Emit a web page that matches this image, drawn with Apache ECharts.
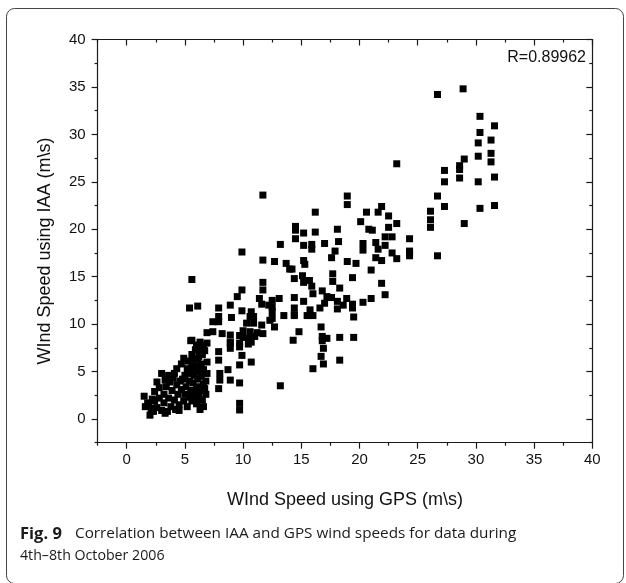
<!DOCTYPE html>
<html>
<head>
<meta charset="utf-8">
<script src="https://cdn.jsdelivr.net/npm/echarts@6/dist/echarts.min.js"></script>
<style>
html,body{margin:0;padding:0;background:#fff;}
#chart{width:626px;height:583px;}
</style>
</head>
<body>
<div id="chart"></div>
<script>
// Wind speed using GPS (m\s) -- x values
var gpsSpeed = [
26.7,28.9,30.35,31.6,30.35,31.3,30.2,30.2,31.3,31.3,29.0,28.6,28.6,27.3,27.3,28.6,30.2,31.6,26.7,27.3,30.35,31.6,26.1,26.1,26.1,29.0,24.3,24.3,26.7,23.2,
18.95,18.95,16.2,21.9,20.6,21.6,22.5,20.1,23.2,14.5,14.5,15.2,16.2,18.1,20.8,21.1,22.5,14.5,22.2,22.8,18.2,17.0,15.2,15.9,15.9,20.3,20.3,21.4,22.2,21.6,17.9,24.3,24.3,22.8,17.6,21.4,21.9,23.2,18.95,19.7,15.2,15.3,14.2,21.0,17.7,17.7,14.4,15.1,15.2,15.7,15.9,19.4,21.9,18.3,16.0,16.8,22.2,14.4,15.2,17.2,17.6,18.1,18.9,21.0,20.3,17.0,19.4,18.6,14.4,14.4,16.6,18.1,19.4,15.75,15.5,16.0,19.5,16.7,14.8,14.3,16.8,17.2,16.8,18.3,19.5,16.9,16.7,16.9,18.3,16.0,
11.7,9.9,13.2,11.7,12.7,13.7,14.0,11.7,11.7,9.9,9.5,5.6,11.4,12.5,13.1,11.6,12.2,12.5,8.9,7.9,6.1,5.4,9.9,10.7,12.5,10.6,10.9,7.9,9.0,13.5,14.4,12.5,7.4,7.9,10.3,10.9,11.6,12.3,12.7,10.0,10.6,11.2,7.4,6.9,8.2,8.9,9.7,10.0,10.5,11.0,11.7,8.9,9.7,10.45,6.3,6.6,5.6,
7.9,7.9,8.0,8.0,7.9,8.7,8.9,9.7,9.7,10.7,9.9,9.7,10.7,8.9,8.9,9.7,9.7,13.2,
1.5,1.6,1.8,2.0,2.1,2.3,2.4,2.6,2.4,2.6,3.0,2.8,3.0,3.2,3.2,3.4,3.5,3.6,3.7,3.8,3.9,4.0,4.1,4.2,4.3,4.3,4.4,4.5,4.6,4.7,4.7,4.9,5.0,5.0,5.1,5.2,5.2,5.3,5.4,5.4,5.5,5.5,5.6,5.6,5.7,5.8,5.8,5.9,5.9,6.0,6.0,6.1,6.1,6.2,6.2,6.3,6.3,6.4,6.4,6.5,6.5,6.6,6.6,6.7,6.8,6.8,6.9,6.9,
4.8,5.3,5.6,5.7,6.0,6.2,6.4,6.0,3.6,4.1,4.9,2.8,3.3,2.2,1.9,6.6,6.3,5.9,6.7,6.9,4.5,3.3,5.5
];
// Wind speed using IAA (m\s) -- y values
var iaaSpeed = [
34.2,34.8,31.9,30.9,30.2,29.4,29.1,27.7,28.0,27.1,27.4,26.7,26.3,26.2,25.0,25.4,25.0,25.5,23.5,22.4,22.2,22.5,21.9,21.0,20.2,20.6,19.0,17.7,17.2,26.9,
23.5,22.6,21.8,22.4,21.8,21.8,21.4,20.8,20.6,20.3,19.9,19.6,19.7,20.0,20.0,19.9,20.2,19.0,19.2,19.2,18.7,18.5,18.3,18.4,17.9,18.5,17.8,18.6,18.3,17.9,17.7,17.2,17.5,17.5,17.0,17.0,16.7,16.9,16.6,16.4,16.7,16.3,15.8,15.7,15.3,14.5,14.8,15.1,14.4,14.6,14.0,14.9,14.3,13.8,13.2,13.5,13.1,12.8,12.4,12.9,12.8,12.4,12.7,12.7,12.3,12.2,12.1,12.0,11.7,11.0,11.7,11.6,11.7,11.5,10.9,10.9,10.75,9.7,9.2,8.3,8.7,8.5,8.25,8.6,8.6,7.45,6.6,5.8,6.2,5.3,
23.6,17.6,18.4,16.75,16.6,16.4,15.8,14.4,13.6,13.6,12.9,14.7,12.7,12.5,12.7,12.1,12.0,11.8,12.0,11.7,11.9,11.7,11.4,11.3,11.3,10.8,10.8,10.8,10.7,10.9,10.9,10.6,10.25,10.25,10.1,10.1,9.9,10.4,9.7,9.3,9.2,9.1,9.2,9.1,9.0,8.85,8.8,8.6,8.5,8.7,9.0,8.0,8.0,7.9,8.1,7.8,8.3,
7.1,6.2,4.8,4.1,3.2,5.2,4.1,3.8,5.7,6.0,6.7,7.6,8.1,7.45,8.1,1.65,0.95,3.5,
2.4,1.3,1.7,0.4,1.1,0.8,1.9,1.2,2.9,3.9,4.8,2.2,0.9,2.6,1.7,3.4,0.8,2.2,3.9,1.3,3.0,4.3,2.0,1.0,3.6,5.3,2.6,1.5,4.0,3.1,5.8,1.9,2.6,4.6,3.4,5.3,1.3,6.1,2.3,4.0,3.0,5.0,6.8,1.9,3.8,4.6,2.7,5.6,7.3,1.6,3.4,4.2,6.3,2.3,5.0,7.7,3.0,5.8,4.5,2.0,6.8,3.7,5.2,7.2,4.0,2.6,6.0,8.0,
4.2,4.8,5.6,6.3,5.2,6.6,7.0,7.8,4.6,4.8,6.4,3.3,4.1,2.1,1.4,1.3,1.0,2.2,3.2,4.8,0.9,0.6,8.25
];
var majorTicks = [0, 5, 10, 15, 20, 25, 30, 35, 40];
var minorTicks = [-2.5, 2.5, 7.5, 12.5, 17.5, 22.5, 27.5, 32.5, 37.5];
var rLabel = 'R=0.89962';
var xTitle = 'WInd Speed using GPS (m\\s)';
var yTitle = 'WInd Speed using IAA (m\\s)';
var captionBold = 'Fig. 9';
var captionLine1 = 'Correlation between IAA and GPS wind speeds for data during';
var captionLine2 = '4th\u20138th October 2006';

var points = gpsSpeed.map(function (x, i) { return [x, iaaSpeed[i]]; });

var chart = echarts.init(document.getElementById('chart'), null, {renderer: 'canvas'});
var lineStyle = {color: '#1a1a1a', width: 1.2};
var font = 'Liberation Sans, Arial, sans-serif';
var capFont = 'Open Sans, sans-serif';

function mkX(pos, ticks, len, inside, showLine, showLabel) {
  return {
    type: 'value', min: -2.5, max: 40, position: pos,
    axisLine: {show: showLine, onZero: false, lineStyle: lineStyle},
    axisTick: {show: true, inside: inside, length: len, customValues: ticks, lineStyle: lineStyle},
    axisLabel: {show: showLabel, customValues: majorTicks, fontSize: 15, color: '#111', fontFamily: font, margin: 10},
    splitLine: {show: false}
  };
}
function mkY(pos, ticks, len, inside, showLine, showLabel) {
  return {
    type: 'value', min: -2.5, max: 40, position: pos,
    axisLine: {show: showLine, onZero: false, lineStyle: lineStyle},
    axisTick: {show: true, inside: inside, length: len, customValues: ticks, lineStyle: lineStyle},
    axisLabel: {show: showLabel, customValues: majorTicks, fontSize: 15, color: '#111', fontFamily: font, margin: 12},
    splitLine: {show: false}
  };
}

chart.setOption({
  animation: false,
  backgroundColor: '#ffffff',
  grid: {left: 97.6, top: 39.5, width: 494.7, height: 403.2, containLabel: false},
  xAxis: [
    mkX('bottom', majorTicks, 6, false, true, true),
    mkX('bottom', minorTicks, 3, false, false, false),
    mkX('top', majorTicks, 6, true, true, false),
    mkX('top', minorTicks, 3, true, false, false)
  ],
  yAxis: [
    mkY('left', majorTicks, 6, false, true, true),
    mkY('left', minorTicks, 3, false, false, false),
    mkY('right', majorTicks, 6, true, true, false),
    mkY('right', minorTicks, 3, true, false, false)
  ],
  series: [{
    type: 'scatter',
    xAxisIndex: 0, yAxisIndex: 0,
    symbol: 'rect', symbolSize: 7,
    itemStyle: {color: '#000', opacity: 1},
    data: points
  }],
  graphic: [
    {type: 'rect', shape: {x: 6.5, y: 8.5, width: 617, height: 575, r: 8},
     style: {fill: 'none', stroke: '#444', lineWidth: 1}, silent: true, z: -1},
    {type: 'text', x: 586, y: 57.5,
     style: {text: rLabel, fontSize: 16, fontFamily: font, fill: '#111', align: 'right', verticalAlign: 'middle'}},
    {type: 'text', x: 345, y: 500,
     style: {text: xTitle, fontSize: 18, fontFamily: font, fill: '#111', align: 'center', verticalAlign: 'middle'}},
    {type: 'text', x: 45, y: 251, rotation: Math.PI / 2,
     style: {text: yTitle, fontSize: 18, fontFamily: font, fill: '#111', align: 'center', verticalAlign: 'middle'}},
    {type: 'text', x: 20, y: 534,
     style: {text: captionBold, fontSize: 16.5, fontWeight: 'bold', fontFamily: capFont, fill: '#1a1a1a', verticalAlign: 'middle'}},
    {type: 'text', x: 75, y: 534,
     style: {text: captionLine1, fontSize: 15.3, fontFamily: capFont, fill: '#1a1a1a', verticalAlign: 'middle'}},
    {type: 'text', x: 20, y: 556,
     style: {text: captionLine2, fontSize: 14.2, fontFamily: capFont, fill: '#1a1a1a', verticalAlign: 'middle'}}
  ]
});
</script>
</body>
</html>
